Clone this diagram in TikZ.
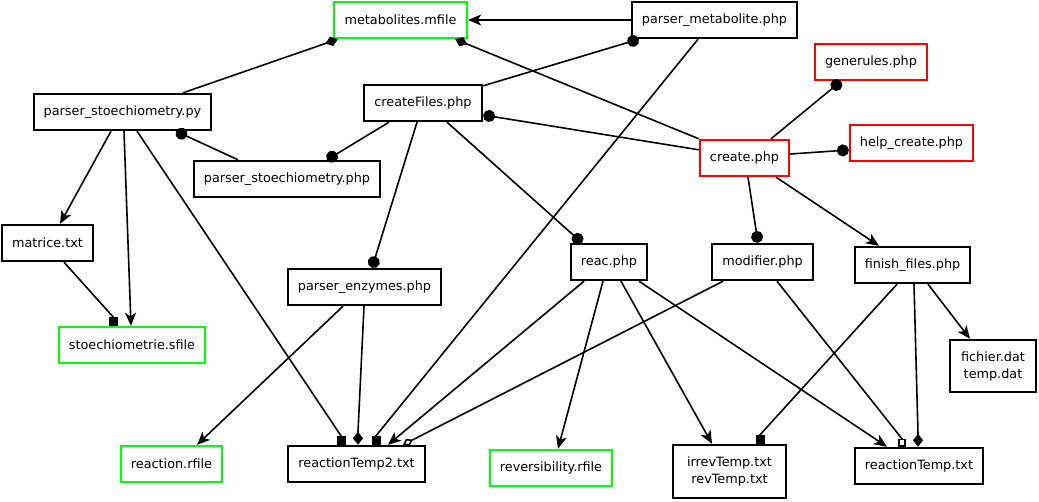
\documentclass[tikz,border=0pt]{standalone}
\usepackage{fontspec}
\setmainfont{DejaVu Sans}
\usetikzlibrary{arrows.meta}
\definecolor{gvgreen}{RGB}{0,255,0}
\definecolor{gvred}{RGB}{255,0,0}
\tikzset{
  fbox/.style={draw=black,line width=1.9pt,inner sep=0pt,align=center,
    font=\fontsize{12.8}{17}\selectfont},
  gbox/.style={fbox,draw=gvgreen},
  rbox/.style={fbox,draw=gvred},
  edge/.style={line width=1.6pt},
  tarrow/.style={edge,-{Stealth[length=13pt,width=11pt,inset=3.5pt]}},
  tdot/.style={edge,-{Circle[length=12pt]}},
  tsq/.style={edge,-{Square[length=9pt,width=9pt]}},
  tdia/.style={edge,-{Diamond[length=13pt,width=10pt]}},
  tosq/.style={edge,-{Square[open,length=8pt,width=8pt,fill=white]}},
  todia/.style={edge,-{Diamond[open,length=11pt,width=8pt,fill=white]}},
}
\begin{document}
\begin{tikzpicture}[x=1pt,y=-1pt]
\useasboundingbox (0,0) rectangle (1039,501);
% nodes
\node[gbox,minimum width=133.5pt,minimum height=36.5pt] (meta) at (400.5,20) {metabolites.mfile};
\node[fbox,minimum width=165.5pt,minimum height=36.5pt] (pmet) at (714.5,20) {parser\_metabolite.php};
\node[fbox,minimum width=177.5pt,minimum height=36.5pt] (pspy) at (122.5,112) {parser\_stoechiometry.py};
\node[fbox,minimum width=118.5pt,minimum height=36.5pt] (cfiles) at (423,103) {createFiles.php};
\node[fbox,minimum width=186.5pt,minimum height=36.5pt] (psphp) at (287,179) {parser\_stoechiometry.php};
\node[rbox,minimum width=112.5pt,minimum height=36.5pt] (gene) at (871,62) {generules.php};
\node[rbox,minimum width=123.5pt,minimum height=36.5pt] (help) at (911.5,143) {help\_create.php};
\node[rbox,minimum width=89.5pt,minimum height=36.5pt] (create) at (744.5,158) {create.php};
\node[fbox,minimum width=91.5pt,minimum height=36.5pt] (matrice) at (47.5,243) {matrice.txt};
\node[fbox,minimum width=76.5pt,minimum height=36.5pt] (reac) at (609,262) {reac.php};
\node[fbox,minimum width=101.5pt,minimum height=36.5pt] (modif) at (762.5,262) {modifier.php};
\node[fbox,minimum width=115.5pt,minimum height=36.5pt] (finish) at (912.5,265) {finish\_files.php};
\node[fbox,minimum width=153.5pt,minimum height=36.5pt] (penz) at (364.5,287) {parser\_enzymes.php};
\node[gbox,minimum width=146.5pt,minimum height=36.5pt] (sfile) at (132,345) {stoechiometrie.sfile};
\node[fbox,minimum width=86.5pt,minimum height=52.5pt] (fichier) at (993,366) {fichier.dat\\temp.dat};
\node[gbox,minimum width=101.5pt,minimum height=36.5pt] (rfile) at (171.5,464) {reaction.rfile};
\node[fbox,minimum width=137.5pt,minimum height=36.5pt] (rt2) at (356.5,464) {reactionTemp2.txt};
\node[gbox,minimum width=122.5pt,minimum height=36.5pt] (revf) at (551,468) {reversibility.rfile};
\node[fbox,minimum width=113.5pt,minimum height=53.5pt] (irrev) at (729.5,471.5) {irrevTemp.txt\\revTemp.txt};
\node[fbox,minimum width=128.5pt,minimum height=36.5pt] (rtemp) at (919,466) {reactionTemp.txt};
% edges
\draw[tarrow] (pmet.west) -- (meta.east);
\draw[tdia] ([xshift=60.5pt]pspy.north) -- ([xshift=5pt]meta.south west);
\draw[tdia] (create.north west) -- ([xshift=-13pt]meta.south east);
\draw[tdot] ([yshift=-2pt]cfiles.north east) -- ([xshift=8pt]pmet.south west);
\draw[tdot] ([yshift=-11pt]create.north west) -- ([yshift=-12pt]cfiles.east);
\draw[tsq] ([xshift=-16.5pt]pmet.south) -- ([xshift=19.5pt,yshift=9pt]rt2.north) -- ([xshift=19.5pt]rt2.north);
\draw[tdot] ([xshift=-49pt]psphp.north) -- ([xshift=53.5pt]pspy.south);
\draw[tdot] ([xshift=-34pt]cfiles.south) -- ([xshift=40pt]psphp.north);
\draw[tarrow] ([xshift=-11.5pt]pspy.south) -- ([xshift=12.5pt]matrice.north);
\draw[tarrow] ([xshift=1.5pt]pspy.south) -- ([xshift=-1pt]sfile.north);
\draw[tsq] ([xshift=16.5pt]matrice.south) -- ([xshift=-19pt,yshift=9pt]sfile.north) -- ([xshift=-19pt]sfile.north);
\draw[tdot] ([xshift=-6pt]cfiles.south) -- ([xshift=7.5pt]penz.north);
\draw[tdot] ([xshift=24pt]cfiles.south) -- ([xshift=-27pt]reac.north);
\draw[tdot] ([xshift=26.5pt]create.north) -- ([xshift=-30pt]gene.south);
\draw[tdot] ([yshift=4pt]create.east) -- ([yshift=-7pt]help.west);
\draw[tdot] ([xshift=3.5pt]create.south) -- ([xshift=-4.5pt]modif.north);
\draw[tarrow] ([xshift=31.5pt]create.south) -- ([xshift=-33.5pt]finish.north);
\draw[tarrow] ([xshift=-21.5pt]penz.south) -- ([xshift=25.5pt]rfile.north);
\draw[tdia] ([xshift=-0.5pt]penz.south) -- ([xshift=1.5pt,yshift=13pt]rt2.north) -- ([xshift=1.5pt]rt2.north);
\draw[tsq] ([xshift=14.5pt]pspy.south) -- ([xshift=-15.5pt,yshift=9pt]rt2.north) -- ([xshift=-15.5pt]rt2.north);
\draw[tarrow] ([xshift=-25pt]reac.south) -- ([xshift=31.5pt]rt2.north);
\draw[todia] ([xshift=-39.5pt]modif.south) -- ([xshift=46.5pt]rt2.north);
\draw[tarrow] ([xshift=-6pt]reac.south) -- ([xshift=7pt]revf.north);
\draw[tarrow] ([xshift=12pt]reac.south) -- ([xshift=-17.5pt]irrev.north);
\draw[tarrow] ([xshift=30pt]reac.south) -- ([xshift=-32pt]rtemp.north);
\draw[tosq] ([xshift=14.5pt]modif.south) -- ([xshift=-17pt,yshift=8pt]rtemp.north) -- ([xshift=-17pt]rtemp.north);
\draw[tdia] ([xshift=1.5pt]finish.south) -- ([xshift=-1pt,yshift=13pt]rtemp.north) -- ([xshift=-1pt]rtemp.north);
\draw[tsq] ([xshift=-15.5pt]finish.south) -- ([xshift=30.5pt,yshift=9pt]irrev.north) -- ([xshift=30.5pt]irrev.north);
\draw[tarrow] ([xshift=15.5pt]finish.south) -- ([xshift=-23pt]fichier.north);
\end{tikzpicture}
\end{document}
